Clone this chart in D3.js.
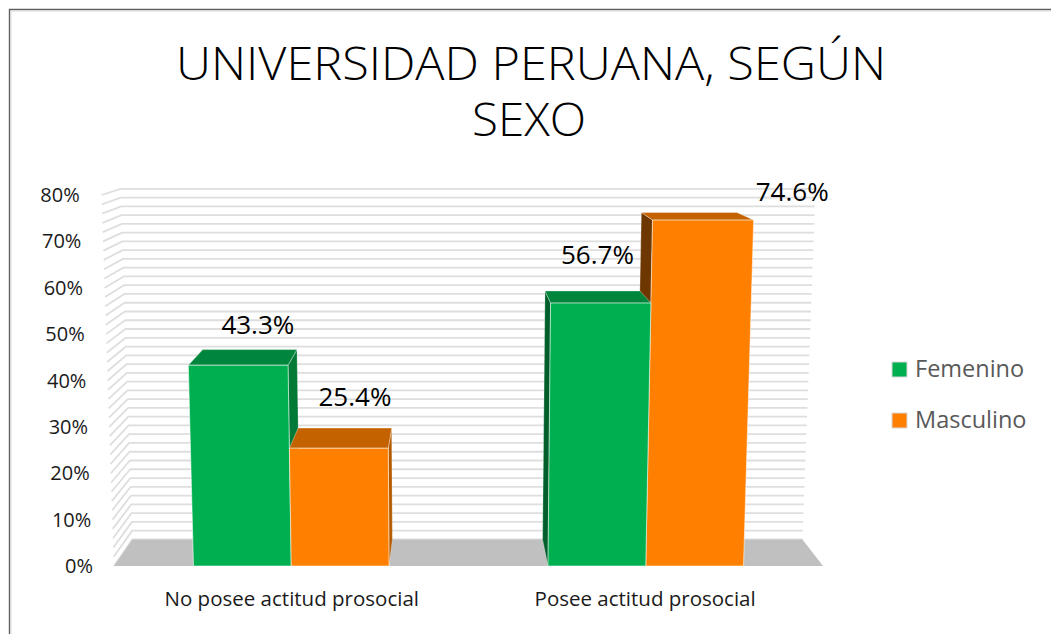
<!DOCTYPE html>
<html>
<head>
<meta charset="utf-8">
<script src="https://cdn.jsdelivr.net/npm/d3@7"></script>
<style>
  html, body { margin: 0; padding: 0; background: #ffffff; }
  svg { display: block; }
  text { font-family: "Open Sans", "Noto Sans", sans-serif; }
</style>
</head>
<body>
<svg id="chart" width="1051" height="634"></svg>
<script>
// ---------- data ----------
const titleLines = ["UNIVERSIDAD PERUANA, SEGÚN", "SEXO"];
const categories = ["No posee actitud prosocial", "Posee actitud prosocial"];
const seriesNames = ["Femenino", "Masculino"];
const femenino = [43.3, 56.7];
const masculino = [25.4, 74.6];
const yTickValues = [0, 10, 20, 30, 40, 50, 60, 70, 80];
const yTickLabels = ["0%", "10%", "20%", "30%", "40%", "50%", "60%", "70%", "80%"];

// ---------- layout / style (not data) ----------
const W = 1051, H = 634;
const plotLeft = 114, plotRight = 823, floorY = 566, topY = 195;
const vp = { x: 450, y: 82 };       // depth vanishing point
const depthShrink = 0.055;           // back plane scale = 1 - depthShrink
const vertConv = 0.0001;             // slight vertical convergence
const colors = {
  Femenino: { front: "#00B050", top: "#00863C", sideR: "#007A36", sideL: "#005E2A" },
  Masculino: { front: "#FF8000", top: "#C46200", sideR: "#B35A00", sideL: "#6E3700" }
};
const labelOffsets = [[8, -16], [10, -22], [5, -27], [103, -11]]; // label position relative to top-back centre

const svg = d3.select("#chart");

// scales
const x = d3.scaleBand().domain(categories).range([plotLeft, plotRight]).paddingInner(0).paddingOuter(0);
const xs = d3.scaleBand().domain(seriesNames).range([0, x.bandwidth()]).paddingInner(0).paddingOuter(0.813);
const y = d3.scaleLinear().domain([0, 80]).range([floorY, topY]);

// projection: model (X, Y in front-plane px, z depth 0..1) -> screen
function proj(X, Y, z) {
  const f = 1 + vertConv * (floorY - Y);
  const sx = vp.x + (X - vp.x) * f;
  const s = 1 - depthShrink * z;
  return [vp.x + (sx - vp.x) * s, vp.y + (Y - vp.y) * s];
}
const poly = pts => "M" + pts.map(p => proj(p[0], p[1], p[2]).join(",")).join("L") + "Z";

// ---------- frame ----------
svg.append("path")
  .attr("d", `M9.5,${H} V9.5 H${W}`)
  .attr("fill", "none").attr("stroke", "#5f5f5f").attr("stroke-width", 1.4);
svg.append("path")
  .attr("d", `M11,${H} V11 H${W}`)
  .attr("fill", "none").attr("stroke", "#d9d9d9").attr("stroke-width", 1);

// ---------- title ----------
svg.append("text")
  .attr("x", 531).attr("y", 80).attr("text-anchor", "middle")
  .attr("font-family", "Lato, 'Open Sans', sans-serif")
  .attr("font-size", 46).attr("font-weight", 300).attr("fill", "#000")
  .attr("textLength", 710).attr("lengthAdjust", "spacingAndGlyphs")
  .text(titleLines[0]);
svg.append("text")
  .attr("x", 529).attr("y", 136).attr("text-anchor", "middle")
  .attr("font-family", "Lato, 'Open Sans', sans-serif")
  .attr("font-size", 46).attr("font-weight", 300).attr("fill", "#000")
  .attr("textLength", 114).attr("lengthAdjust", "spacingAndGlyphs")
  .text(titleLines[1]);

// ---------- walls (gridlines every 2%) ----------
const gridVals = y.ticks(40);
const g = svg.append("g");
gridVals.forEach(v => {
  const yy = y(v);
  const a = proj(plotLeft, yy, 0), b = proj(plotLeft, yy, 1), c = proj(plotRight, yy, 1);
  g.append("path")
    .attr("d", `M${a}L${b}L${c}`)
    .attr("fill", "none").attr("stroke", "#dedede").attr("stroke-width", 1.8)
    .attr("stroke-linejoin", "round");
});

// ---------- floor ----------
svg.append("path")
  .attr("d", poly([[plotLeft, floorY, 0], [plotRight, floorY, 0], [plotRight, floorY, 1], [plotLeft, floorY, 1]]))
  .attr("fill", "#C0C0C0");

// ---------- y axis labels ----------
svg.append("g").selectAll("text").data(yTickValues).join("text")
  .attr("x", d => proj(plotLeft - 21, y(d), 0)[0])
  .attr("y", d => y(d) + 7)
  .attr("text-anchor", "end")
  .attr("font-size", 20).attr("fill", "#1a1a1a")
  .text((d, i) => yTickLabels[i]);

// ---------- bars ----------
const bars = [];
categories.forEach((cat, ci) => {
  [femenino, masculino].forEach((arr, si) => {
    const name = seriesNames[si];
    const x0 = x(cat) + xs(name), x1 = x0 + xs.bandwidth();
    bars.push({ cat, ci, si, name, value: arr[ci], x0, x1, order: bars.length });
  });
});
const drawOrder = bars.slice().sort((a, b) =>
  Math.abs((b.x0 + b.x1) / 2 - vp.x) - Math.abs((a.x0 + a.x1) / 2 - vp.x));

const bg = svg.append("g");
drawOrder.forEach(b => {
  const yt = y(b.value), yb = floorY;
  const c = colors[b.name];
  const grp = bg.append("g");
  if (b.x1 <= vp.x) {
    grp.append("path").attr("d", poly([[b.x1, yb, 0], [b.x1, yt, 0], [b.x1, yt, 1], [b.x1, yb, 1]]))
      .attr("fill", c.sideR).attr("stroke", "rgba(255,255,255,0.35)").attr("stroke-width", 0.8);
  } else if (b.x0 >= vp.x) {
    grp.append("path").attr("d", poly([[b.x0, yb, 0], [b.x0, yt, 0], [b.x0, yt, 1], [b.x0, yb, 1]]))
      .attr("fill", c.sideL).attr("stroke", "rgba(255,255,255,0.35)").attr("stroke-width", 0.8);
  }
  grp.append("path").attr("d", poly([[b.x0, yt, 0], [b.x1, yt, 0], [b.x1, yt, 1], [b.x0, yt, 1]]))
    .attr("fill", c.top).attr("stroke", "rgba(255,255,255,0.45)").attr("stroke-width", 0.8);
  grp.append("path").attr("d", poly([[b.x0, yb, 0], [b.x1, yb, 0], [b.x1, yt, 0], [b.x0, yt, 0]]))
    .attr("fill", c.front).attr("stroke", "rgba(255,255,255,0.55)").attr("stroke-width", 1);
});

// ---------- data labels ----------
svg.append("g").selectAll("text").data(bars).join("text")
  .attr("x", d => {
    const p = proj((d.x0 + d.x1) / 2, y(d.value), 1);
    return p[0] + labelOffsets[d.order][0];
  })
  .attr("y", d => proj((d.x0 + d.x1) / 2, y(d.value), 1)[1] + labelOffsets[d.order][1])
  .attr("text-anchor", "middle")
  .attr("font-size", 26).attr("fill", "#000")
  .text(d => d.value.toFixed(1) + "%");

// ---------- category labels ----------
svg.append("g").selectAll("text").data(categories).join("text")
  .attr("x", d => proj(x(d) + x.bandwidth() / 2, 598, 0)[0])
  .attr("y", 606)
  .attr("text-anchor", "middle")
  .attr("font-size", 20.5).attr("fill", "#1a1a1a")
  .text(d => d);

// ---------- legend ----------
const lg = svg.append("g").selectAll("g").data(seriesNames).join("g")
  .attr("transform", (d, i) => `translate(892,${362 + i * 51})`);
lg.append("rect").attr("width", 15).attr("height", 15)
  .attr("fill", d => colors[d].front).attr("stroke", "#d8d8d8").attr("stroke-width", 1);
lg.append("text").attr("x", 23).attr("y", 15)
  .attr("font-size", 23.5).attr("fill", "#595959")
  .text(d => d);
</script>
</body>
</html>
